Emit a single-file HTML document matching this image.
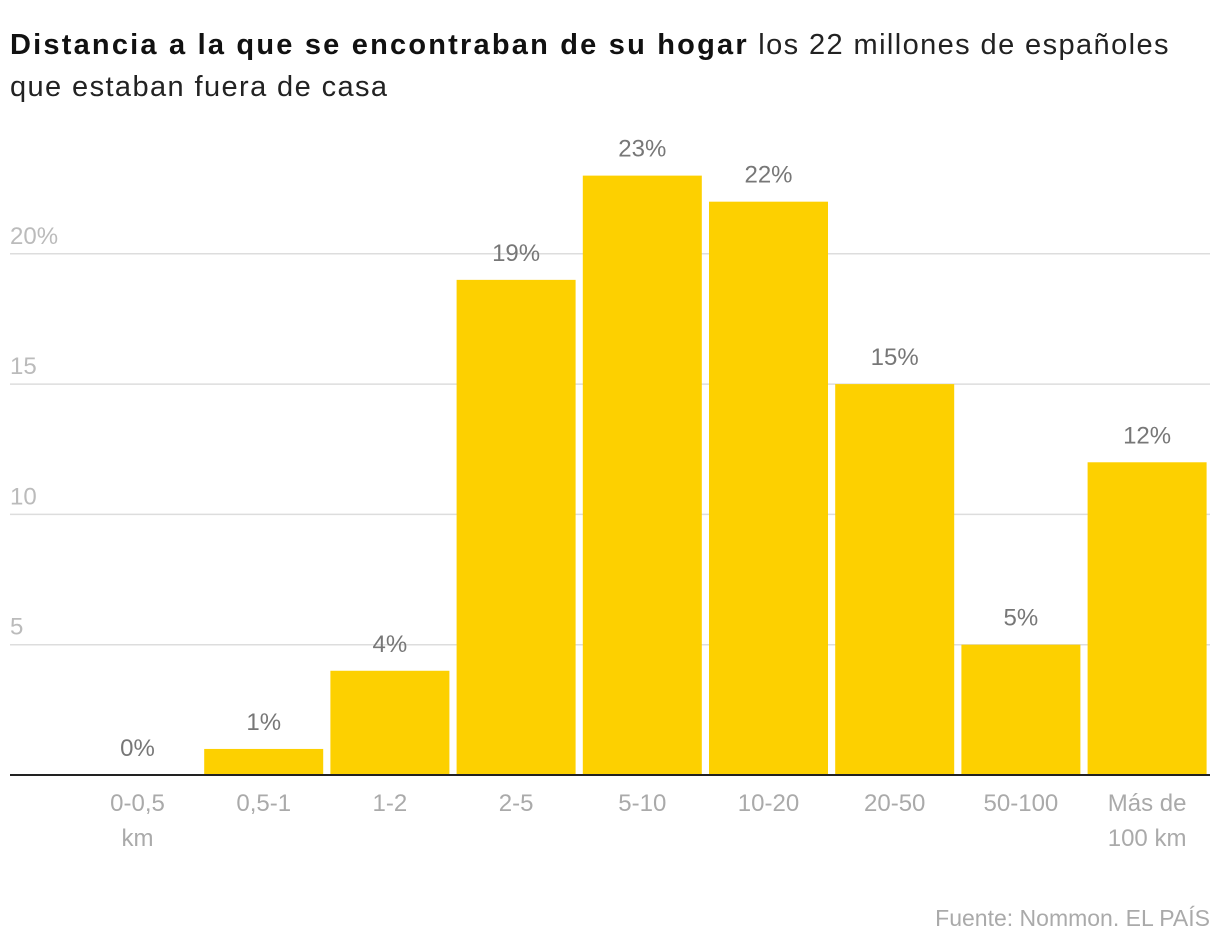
<!DOCTYPE html>
<html><head><meta charset="utf-8"><style>
body{margin:0;width:1220px;height:952px;background:#fff;font-family:"Liberation Sans",sans-serif;overflow:hidden}
#title{position:absolute;left:10px;top:24px;font-size:29px;line-height:42px;color:#222;width:1210px;white-space:nowrap;letter-spacing:1.4px}
#title b{color:#111;letter-spacing:2.2px}
svg{position:absolute;left:0;top:0}
#src{position:absolute;right:10px;top:905px;font-size:23px;color:#aaa}
</style></head><body>
<div id="title"><b>Distancia a la que se encontraban de su hogar</b> los 22 millones de españoles<br>que estaban fuera de casa</div>
<svg id="chart" width="1220" height="952"></svg>
<div id="src">Fuente: Nommon. EL PAÍS</div>
<script>
const categories=["0-0,5|km","0,5-1","1-2","2-5","5-10","10-20","20-50","50-100","Más de|100 km"];
const values=[0,1,4,19,23,22,15,5,12];
const ticks=[5,10,15,20];
const tickLabels=["5","10","15","20%"];
const NS="http://www.w3.org/2000/svg";
const svg=document.getElementById('chart');
const y=v=>775-v*26.06;
const x=i=>78+i*126.2;
const bw=119;
function mk(t,a){const e=document.createElementNS(NS,t);for(const k in a)e.setAttribute(k,a[k]);svg.appendChild(e);return e;}
ticks.forEach((t,i)=>{
  const g=mk('line',{x1:10,x2:1210,y1:y(t),y2:y(t),stroke:'#ddd','stroke-width':1.5});
  
  
  const l=mk('text',{x:10,y:y(t)-10,'font-size':24,fill:'#bbb'});
  l.textContent=tickLabels[i];
  
  
});
values.forEach((v,i)=>{
  const r=mk('rect',{x:x(i),y:y(v),width:bw,height:775-y(v),fill:'#FDD000'});
  
  
  const t=mk('text',{x:x(i)+bw/2,y:y(v)-19,'font-size':24,fill:'#777','text-anchor':'middle'});
  t.textContent=v+'%';
  
  
  categories[i].split('|').forEach((s,j)=>{
    const c=mk('text',{x:x(i)+bw/2,y:811+j*35,'font-size':24,fill:'#aaa','text-anchor':'middle'});
    c.textContent=s;
    
    
  });
});
const b=mk('line',{x1:10,x2:1210,y1:775,y2:775,stroke:'#222','stroke-width':2});


</script>
</body></html>
